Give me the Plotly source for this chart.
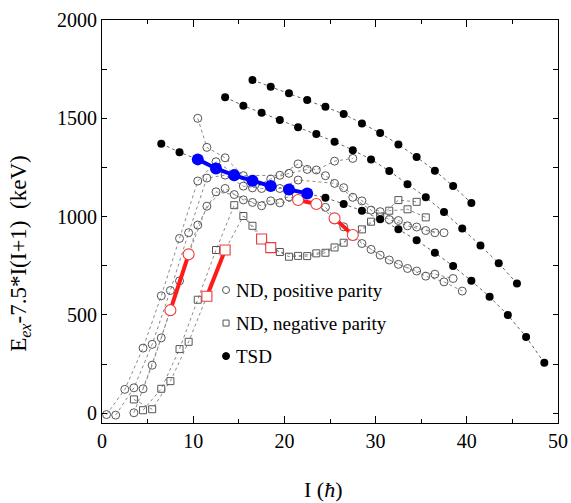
import plotly.graph_objects as go

# ---------------------------------------------------------------
# Data: excitation energy minus rigid-rotor reference, E - 7.5*I(I+1) (keV)
# ---------------------------------------------------------------

# TSD bands (filled circles)
tsd1_spin = [6.5, 8.5, 10.5, 12.5, 14.5, 16.5, 18.5, 20.5, 22.5, 24.5, 26.5,
             28.5, 30.5, 32.5, 34.5, 36.5, 38.5, 40.5, 42.5, 44.5, 46.5, 48.5]
tsd1_e = [1371, 1327, 1291, 1245, 1210, 1182, 1155, 1138, 1118, 1096, 1064,
          1030, 986, 936, 879, 816, 748, 673, 592, 499, 388, 256]

tsd2_spin = [13.5, 15.5, 17.5, 19.5, 21.5, 23.5, 25.5, 27.5, 29.5, 31.5, 33.5,
             35.5, 37.5, 39.5, 41.5, 43.5, 45.5]
tsd2_e = [1607, 1564, 1528, 1491, 1454, 1420, 1381, 1338, 1291, 1232, 1165,
          1098, 1023, 940, 853, 762, 660]

tsd3_spin = [16.5, 18.5, 20.5, 22.5, 24.5, 26.5, 28.5, 30.5, 32.5, 34.5, 36.5,
             38.5, 40.5]
tsd3_e = [1695, 1661, 1627, 1593, 1559, 1522, 1474, 1425, 1367, 1303, 1233,
          1155, 1069]

# ND positive-parity bands (open circles)
pa_spin = [0.5, 2.5, 4.5, 6.5, 8.5, 10.5, 12.5, 14.5, 16.5, 18.5, 20.5, 22.5,
           24.5, 26.5, 28.5, 30.5, 32.5, 34.5, 36.5]
pa_e = [-7, 121, 331, 597, 889, 1181, 1279, 1220, 1146, 1191, 1220, 1240,
        1208, 1147, 1080, 1025, 980, 947, 918]

pb_spin = [1.5, 3.5, 5.5, 7.5, 9.5, 11.5, 13.5, 15.5, 17.5, 19.5, 21.5, 25.5,
           27.5, 29.5, 31.5, 33.5, 35.5, 37.5]
pb_e = [-10, 129, 350, 624, 918, 1196, 1211, 1155, 1143, 1143, 1186, 1169,
        1098, 1033, 985, 953, 929, 918]

pc_spin = [3.5, 5.5, 7.5, 9.5, 11.5, 13.5, 15.5, 17.5, 19.5, 21.5, 23.5, 25.5,
           27.5, 29.5, 31.5, 33.5, 35.5, 37.5, 39.5]
pc_e = [2, 244, 524, 808, 1053, 1143, 1085, 1055, 1070, 1084, 1064, 991,
        906, 833, 779, 736, 697, 668, 621]

pd_spin = [4.5, 6.5, 8.5, 10.5, 12.5, 14.5, 16.5, 18.5, 20.5, 24.5, 26.5,
           28.5, 30.5, 32.5, 34.5, 36.5, 38.5]
pd_e = [124, 383, 673, 957, 1126, 1112, 1072, 1080, 1100, 1047, 948,
        863, 804, 757, 723, 707, 685]

pe_spin = [10.5, 11.5, 13.5, 15.5, 19.5, 21.5, 23.5, 25.5, 27.5]
pe_e = [1500, 1352, 1299, 1208, 1210, 1268, 1237, 1282, 1296]

# ND negative-parity bands (open squares)
sa_spin = [4.5, 6.5, 8.5, 10.5, 12.5, 14.5, 16.5, 18.5, 20.5, 22.5, 24.5,
           26.5, 28.5, 30.5, 32.5, 34.5]
sa_e = [15, 124, 326, 577, 830, 1058, 953, 842, 796, 799, 816,
        867, 935, 1000, 1084, 1075]

sb_spin = [3.5, 5.5, 7.5, 9.5, 11.5, 13.5, 15.5, 17.5, 19.5, 21.5, 23.5,
           25.5, 27.5, 29.5, 31.5, 33.5, 35.5]
sb_e = [70, 20, 163, 363, 595, 830, 1003, 886, 820, 800, 813,
        843, 900, 974, 1030, 1037, 996]

# Highlighted transitions: (band, spin from, band, spin to)
red_circle_links = [("pc", 7.5, "pc", 9.5), ("pc", 21.5, "pc", 23.5),
                    ("pc", 25.5, "pc", 27.5)]
red_square_links = [("sb", 11.5, "sb", 13.5), ("sb", 17.5, "sa", 18.5)]
blue_ranges = [(10.5, 18.5), (20.5, 22.5)]

bands = {
    "pa": (pa_spin, pa_e), "pb": (pb_spin, pb_e), "pc": (pc_spin, pc_e),
    "pd": (pd_spin, pd_e), "pe": (pe_spin, pe_e),
    "sa": (sa_spin, sa_e), "sb": (sb_spin, sb_e),
}


def level(band, spin):
    s, e = bands[band]
    return e[s.index(spin)]


FONT = "Liberation Serif, Times New Roman, serif"
GRAY = "#555555"
DOT = "#8a8a8a"
RED = "#ff1a1a"
BLUE = "#0000ff"

fig = go.Figure()

# dotted band connectors
for key in ["pa", "pb", "pc", "pd", "pe", "sa", "sb"]:
    s, e = bands[key]
    fig.add_trace(go.Scatter(x=s, y=e, mode="lines", showlegend=False,
                             line=dict(color=DOT, width=1, dash="dot"),
                             hoverinfo="skip"))
for s, e in [(tsd1_spin, tsd1_e), (tsd2_spin, tsd2_e), (tsd3_spin, tsd3_e)]:
    fig.add_trace(go.Scatter(x=s, y=e, mode="lines", showlegend=False,
                             line=dict(color="#666666", width=1, dash="dot"),
                             hoverinfo="skip"))

# ND markers
for key in ["pa", "pb", "pc", "pd", "pe"]:
    s, e = bands[key]
    fig.add_trace(go.Scatter(x=s, y=e, mode="markers", showlegend=False,
                             marker=dict(symbol="circle-open", size=8,
                                         color=GRAY, line=dict(width=1))))
for key in ["sa", "sb"]:
    s, e = bands[key]
    fig.add_trace(go.Scatter(x=s, y=e, mode="markers", showlegend=False,
                             marker=dict(symbol="square-open", size=7,
                                         color=GRAY, line=dict(width=1))))

# TSD markers
for s, e in [(tsd1_spin, tsd1_e), (tsd2_spin, tsd2_e), (tsd3_spin, tsd3_e)]:
    fig.add_trace(go.Scatter(x=s, y=e, mode="markers", showlegend=False,
                             marker=dict(symbol="circle", size=8, color="black")))

# highlighted ND transitions (white-filled markers over a thick red line)
for links, sym, size in [(red_circle_links, "circle", 11),
                         (red_square_links, "square", 10)]:
    for b0, i0, b1, i1 in links:
        xs = [i0, i1]
        ys = [level(b0, i0), level(b1, i1)]
        fig.add_trace(go.Scatter(x=xs, y=ys, mode="lines", showlegend=False,
                                 line=dict(color=RED, width=4)))
        fig.add_trace(go.Scatter(x=xs, y=ys, mode="markers", showlegend=False,
                                 marker=dict(symbol=sym, size=size,
                                             color="white",
                                             line=dict(width=1.1,
                                                       color="#ee3a3a"))))

# highlighted TSD section
for lo, hi in blue_ranges:
    xs = [s for s in tsd1_spin if lo <= s <= hi]
    ys = [e for s, e in zip(tsd1_spin, tsd1_e) if lo <= s <= hi]
    fig.add_trace(go.Scatter(x=xs, y=ys, mode="lines+markers", showlegend=False,
                             line=dict(color=BLUE, width=4),
                             marker=dict(symbol="circle", size=12, color=BLUE)))

# legend drawn inside the frame
legend_items = [("circle", GRAY, "white", "ND, positive parity", 0.330),
                ("rect", GRAY, "white", "ND, negative parity", 0.248),
                ("circle", "black", "black", "TSD", 0.166)]
shapes = []
annotations = []
for kind, lc, fc, label, ypos in legend_items:
    half = 3.5 if kind == "circle" else 3.0
    shapes.append(dict(type=kind, xref="paper", yref="paper",
                       xsizemode="pixel", ysizemode="pixel",
                       xanchor=0.272, yanchor=ypos,
                       x0=-half, x1=half, y0=-half, y1=half,
                       line=dict(color=lc, width=1), fillcolor=fc))
    annotations.append(dict(text=label, xref="paper", yref="paper",
                            x=0.29, y=ypos, xanchor="left", yanchor="middle",
                            showarrow=False,
                            font=dict(family=FONT, size=19, color="black")))

annotations.append(dict(text="E<sub><i>ex</i></sub>-7.5*I(I+1)&#160;&#160;(keV)",
                        xref="paper", yref="paper", x=-0.18, y=0.422,
                        textangle=-90, showarrow=False,
                        xanchor="center", yanchor="middle",
                        font=dict(family=FONT, size=23, color="black")))
annotations.append(dict(text="I (<i>ħ</i>)", xref="paper", yref="paper",
                        x=0.484, y=-0.166, showarrow=False,
                        xanchor="center", yanchor="middle",
                        font=dict(family=FONT, size=22, color="black")))

axis_common = dict(showline=True, linecolor="black", linewidth=1, mirror="ticks",
                   ticks="inside", tickcolor="black", showgrid=False,
                   zeroline=False, automargin=False,
                   tickfont=dict(family=FONT, size=20, color="black"))

fig.update_layout(
    width=571, height=503,
    margin=dict(l=102, r=13, t=20, b=80),
    paper_bgcolor="white", plot_bgcolor="white",
    shapes=shapes, annotations=annotations,
    xaxis=dict(range=[0, 50], tickvals=[0, 10, 20, 30, 40, 50], ticklen=7,
               minor=dict(tickvals=[5, 15, 25, 35, 45], ticklen=4,
                          ticks="inside", tickcolor="black"),
               **axis_common),
    yaxis=dict(range=[-50, 2000], tickvals=[0, 500, 1000, 1500, 2000], ticklen=5,
               minor=dict(tickvals=[250, 750, 1250, 1750], ticklen=5,
                          ticks="inside", tickcolor="black"),
               **axis_common),
)

fig.write_html("out.html")
